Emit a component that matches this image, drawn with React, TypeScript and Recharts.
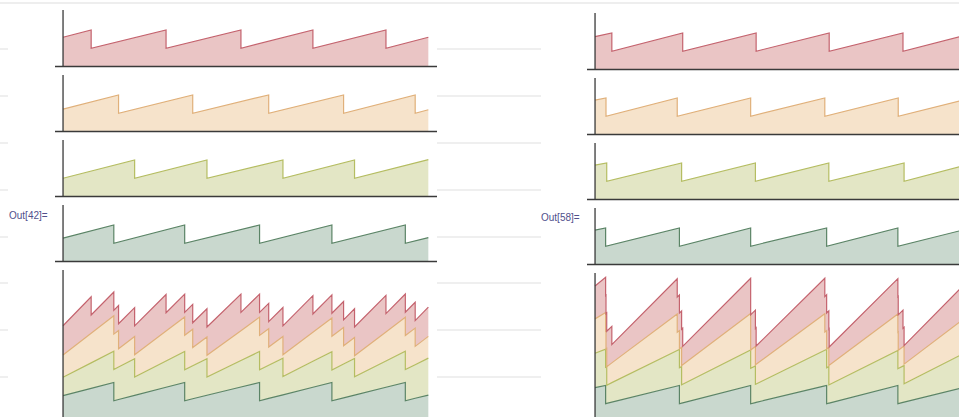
import React from 'react';
import { AreaChart, Area, XAxis, YAxis, ReferenceLine } from 'recharts';

type Pt = [number, number];
type Key = 'green' | 'yellow' | 'orange' | 'red';

// ---- Out[42] : four sawtooth queues ----
const leftRed: Pt[] = [[0, 1.6], [7.7, 2.0], [7.7, 1.0], [28.2, 2.0], [28.2, 1.0], [48.7, 2.0], [48.7, 1.0], [68.4, 2.0], [68.4, 1.0], [88.4, 2.0], [88.4, 1.0], [100, 1.6]];
const leftOrange: Pt[] = [[0, 1.22], [15.2, 2.0], [15.2, 1.0], [35.5, 2.0], [35.5, 1.0], [56.3, 2.0], [56.3, 1.0], [76.8, 2.0], [76.8, 1.0], [96.4, 2.0], [96.4, 1.0], [100, 1.19]];
const leftYellow: Pt[] = [[0, 1.0], [19.6, 2.0], [19.6, 1.0], [39.4, 2.0], [39.4, 1.0], [60.2, 2.0], [60.2, 1.0], [79.8, 2.0], [79.8, 1.0], [100, 2.02]];
const leftGreen: Pt[] = [[0, 1.28], [13.9, 2.0], [13.9, 1.0], [33.3, 2.0], [33.3, 1.0], [53.8, 2.0], [53.8, 1.0], [73.6, 2.0], [73.6, 1.0], [93.7, 2.0], [93.7, 1.0], [100, 1.31]];

// ---- Out[58] : the same queues, nearly in phase ----
const rightRed: Pt[] = [[0, 1.8], [4.6, 2.0], [4.6, 1.0], [24.0, 2.0], [24.0, 1.0], [44.1, 2.0], [44.1, 1.0], [64.1, 2.0], [64.1, 1.0], [84.3, 2.0], [84.3, 1.0], [100, 1.8]];
const rightOrange: Pt[] = [[0, 1.88], [3.0, 2.0], [3.0, 1.0], [22.5, 2.0], [22.5, 1.0], [42.6, 2.0], [42.6, 1.0], [62.9, 2.0], [62.9, 1.0], [83.0, 2.0], [83.0, 1.0], [100, 1.85]];
const rightYellow: Pt[] = [[0, 1.88], [3.2, 2.0], [3.2, 1.0], [23.7, 2.0], [23.7, 1.0], [43.9, 2.0], [43.9, 1.0], [64.0, 2.0], [64.0, 1.0], [84.6, 2.0], [84.6, 1.0], [100, 1.8]];
const rightGreen: Pt[] = [[0, 1.88], [2.9, 2.0], [2.9, 1.0], [23.1, 2.0], [23.1, 1.0], [42.6, 2.0], [42.6, 1.0], [63.4, 2.0], [63.4, 1.0], [82.9, 2.0], [82.9, 1.0], [100, 1.85]];

const outLabels = ['Out[42]=', 'Out[58]='];

const COLORS: Record<Key, { stroke: string; fill: string }> = {
  red: { stroke: '#c4636e', fill: '#eac5c5' },
  orange: { stroke: '#e0b07a', fill: '#f6e3cb' },
  yellow: { stroke: '#b5bd62', fill: '#e3e6c5' },
  green: { stroke: '#5b8466', fill: '#c9d8ce' },
};

const STACK_ORDER: Key[] = ['green', 'yellow', 'orange', 'red'];
const PANEL_ORDER: Key[] = ['red', 'orange', 'yellow', 'green'];

const X_DOMAIN: [number, number] = [-2.2, 102.5];
const PX_PER_T = 3.653;
const PLOT_W = (X_DOMAIN[1] - X_DOMAIN[0]) * PX_PER_T;
const PANEL_H = 56.5;
const PANEL_MAX = 3.09;
const STACK_H = 149;
const STACK_MAX = 8.15;
const AXIS = '#3a3a3a';

// value of a piecewise-linear series just before ('L') or just after ('R') t
function valueAt(points: Pt[], t: number, side: 'L' | 'R'): number {
  if (side === 'L') {
    const j = points.findIndex((p) => p[0] >= t);
    if (j < 0) return points[points.length - 1][1];
    if (points[j][0] === t || j === 0) return points[j][1];
    const [t0, v0] = points[j - 1];
    const [t1, v1] = points[j];
    return v0 + ((v1 - v0) * (t - t0)) / (t1 - t0);
  }
  let j = -1;
  points.forEach((p, i) => { if (p[0] <= t) j = i; });
  if (j < 0) return points[0][1];
  if (points[j][0] === t || j === points.length - 1) return points[j][1];
  const [t0, v0] = points[j];
  const [t1, v1] = points[j + 1];
  return v0 + ((v1 - v0) * (t - t0)) / (t1 - t0);
}

function singleRows(points: Pt[], key: Key) {
  return points.map(([t, v]) => ({ t, [key]: v }));
}

function stackRows(series: Record<Key, Pt[]>) {
  const ts = Array.from(new Set(STACK_ORDER.flatMap((k) => series[k].map((p) => p[0])))).sort((a, b) => a - b);
  const rows: Record<string, number>[] = [];
  ts.forEach((t) => {
    const before: Record<string, number> = { t };
    const after: Record<string, number> = { t };
    let jump = false;
    STACK_ORDER.forEach((k) => {
      before[k] = valueAt(series[k], t, 'L');
      after[k] = valueAt(series[k], t, 'R');
      if (before[k] !== after[k]) jump = true;
    });
    rows.push(before);
    if (jump) rows.push(after);
  });
  return rows;
}

type PanelProps = {
  x: number;
  top: number;
  h: number;
  max: number;
  data: Record<string, number>[];
  keys: Key[];
  stacked?: boolean;
};

function Panel({ x, top, h, max, data, keys, stacked }: PanelProps) {
  const pad = 3;
  return (
    <div style={{ position: 'absolute', left: x, top: top - pad }}>
      <AreaChart width={PLOT_W} height={h + 2 * pad + 1} data={data} margin={{ top: pad, right: 0, bottom: pad, left: 0 }}>
        <XAxis
          type="number"
          dataKey="t"
          domain={X_DOMAIN}
          allowDataOverflow
          tick={false}
          tickLine={false}
          height={1}
          axisLine={{ stroke: AXIS, strokeWidth: 1.6 }}
        />
        <YAxis type="number" domain={[0, max]} allowDataOverflow hide />
        {keys.map((k) => (
          <Area
            key={'f-' + k}
            type="linear"
            dataKey={k}
            stackId={stacked ? 'fill' : undefined}
            stroke="none"
            fill={COLORS[k].fill}
            fillOpacity={1}
            dot={false}
            activeDot={false}
            isAnimationActive={false}
          />
        ))}
        {keys.map((k) => (
          <Area
            key={'l-' + k}
            type="linear"
            dataKey={k}
            stackId={stacked ? 'line' : undefined}
            stroke={COLORS[k].stroke}
            strokeWidth={1.2}
            fill="none"
            dot={false}
            activeDot={false}
            isAnimationActive={false}
          />
        ))}
        <ReferenceLine x={0} stroke={AXIS} strokeWidth={1.3} />
      </AreaChart>
    </div>
  );
}

type GroupProps = {
  axisX: number;
  tops: number[];
  stackTop: number;
  series: Record<Key, Pt[]>;
  label: string;
  labelX: number;
  labelY: number;
};

function Group({ axisX, tops, stackTop, series, label, labelX, labelY }: GroupProps) {
  const x = axisX - -X_DOMAIN[0] * PX_PER_T;
  return (
    <>
      {PANEL_ORDER.map((k, i) => (
        <Panel key={k} x={x} top={tops[i]} h={PANEL_H} max={PANEL_MAX} data={singleRows(series[k], k)} keys={[k]} />
      ))}
      <Panel x={x} top={stackTop} h={STACK_H} max={STACK_MAX} data={stackRows(series)} keys={STACK_ORDER} stacked />
      <div
        style={{
          position: 'absolute',
          left: labelX,
          top: labelY,
          fontFamily: '"Liberation Sans", Arial, sans-serif',
          fontSize: 10,
          color: '#50508c',
          lineHeight: '12px',
          whiteSpace: 'nowrap',
        }}
      >
        {label}
      </div>
    </>
  );
}

const GRID_YS = [49.3, 96, 143, 190, 236.7, 283.3, 330, 376.7];

export default function App() {
  return (
    <div
      style={{
        position: 'fixed',
        left: 0,
        top: 0,
        width: 959,
        height: 417,
        overflow: 'hidden',
        background: '#ffffff',
      }}
    >
      <div style={{ position: 'absolute', left: 0, top: 2, width: 959, height: 2, background: '#eeeeee' }} />
      {GRID_YS.map((y) => (
        <div key={y} style={{ position: 'absolute', left: 0, top: y - 1, width: 959, height: 2, background: '#efefef' }} />
      ))}
      <div style={{ position: 'absolute', left: 8, top: 6, width: 429, height: 411, background: '#ffffff' }} />
      <div style={{ position: 'absolute', left: 541, top: 6, width: 418, height: 411, background: '#ffffff' }} />
      <Group
        axisX={62.7}
        tops={[9.5, 74.5, 139.5, 204.5]}
        stackTop={270}
        series={{ red: leftRed, orange: leftOrange, yellow: leftYellow, green: leftGreen }}
        label={outLabels[0]}
        labelX={9}
        labelY={210}
      />
      <Group
        axisX={595}
        tops={[12.8, 77.8, 142.8, 207.8]}
        stackTop={273.3}
        series={{ red: rightRed, orange: rightOrange, yellow: rightYellow, green: rightGreen }}
        label={outLabels[1]}
        labelX={541}
        labelY={211.5}
      />
    </div>
  );
}
